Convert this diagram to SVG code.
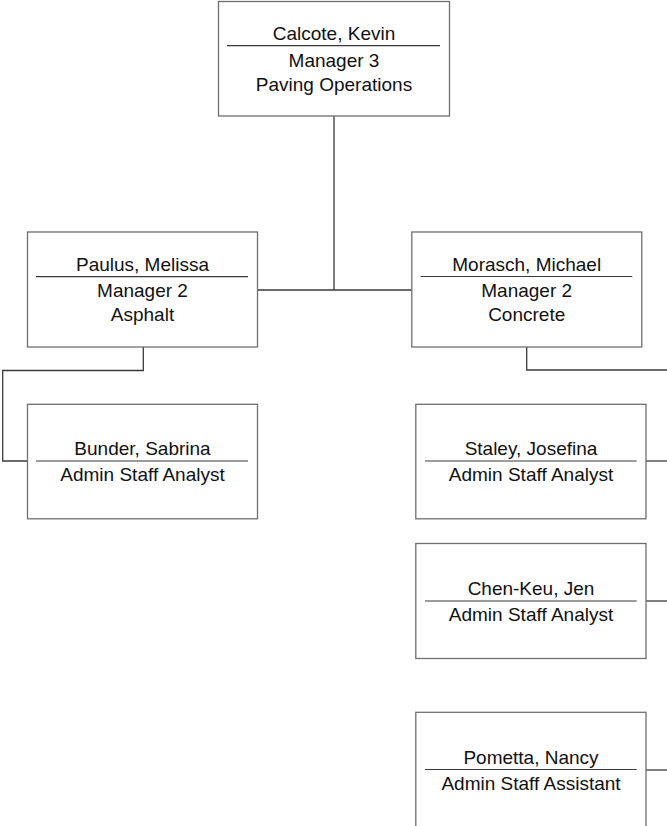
<svg xmlns="http://www.w3.org/2000/svg" width="667" height="826" viewBox="0 0 667 826">
  <style>
    .box { fill: #ffffff; stroke: #6f6f6f; stroke-width: 1.3; }
    .div { stroke: #3a3a3a; stroke-width: 1.2; }
    .conn { fill: none; stroke: #3a3a3a; stroke-width: 1.3; }
    text { font-family: "Liberation Sans", Arial, sans-serif; font-size: 19px; fill: #111; text-anchor: middle; }
  </style>
  <rect width="667" height="826" fill="#ffffff"/>
  <g id="connectors">
    <path class="conn" d="M334,116 V290"/>
    <path class="conn" d="M257.5,290 H412"/>
    <path class="conn" d="M143.3,347 V370.5 H2.7 V461 H27.5"/>
    <path class="conn" d="M526.7,347 V370 H667"/>
    <path class="conn" d="M646,461 H667"/>
    <path class="conn" d="M646,601 H667"/>
    <path class="conn" d="M646,770 H667"/>
  </g>
  <g id="calcote">
    <rect class="box" x="218.5" y="1.5" width="231" height="114.5"/>
    <line class="div" x1="227" y1="45.7" x2="440" y2="45.7"/>
    <text x="334" y="39.5">Calcote, Kevin</text>
    <text x="334" y="66.5">Manager 3</text>
    <text x="334" y="91">Paving Operations</text>
  </g>
  <g id="paulus">
    <rect class="box" x="27.5" y="232" width="230" height="115"/>
    <line class="div" x1="36" y1="276.7" x2="248" y2="276.7"/>
    <text x="142.5" y="270.7">Paulus, Melissa</text>
    <text x="142.5" y="296.7">Manager 2</text>
    <text x="142.5" y="320.7">Asphalt</text>
  </g>
  <g id="morasch">
    <rect class="box" x="411.8" y="232" width="230" height="115"/>
    <line class="div" x1="420.7" y1="276.5" x2="632.3" y2="276.5"/>
    <text x="526.7" y="270.5">Morasch, Michael</text>
    <text x="526.7" y="296.5">Manager 2</text>
    <text x="526.7" y="320.5">Concrete</text>
  </g>
  <g id="bunder">
    <rect class="box" x="27.5" y="404.3" width="230" height="114.5"/>
    <line class="div" x1="36" y1="461" x2="248" y2="461"/>
    <text x="142.5" y="455">Bunder, Sabrina</text>
    <text x="142.5" y="481">Admin Staff Analyst</text>
  </g>
  <g id="staley">
    <rect class="box" x="415.8" y="404.3" width="230.2" height="114.5"/>
    <line class="div" x1="425" y1="461" x2="636.7" y2="461"/>
    <text x="531" y="455">Staley, Josefina</text>
    <text x="531" y="481">Admin Staff Analyst</text>
  </g>
  <g id="chenkeu">
    <rect class="box" x="415.8" y="543.5" width="230.2" height="115"/>
    <line class="div" x1="425" y1="601" x2="636.7" y2="601"/>
    <text x="531" y="595">Chen-Keu, Jen</text>
    <text x="531" y="621">Admin Staff Analyst</text>
  </g>
  <g id="pometta">
    <rect class="box" x="415.8" y="712.3" width="230.2" height="120"/>
    <line class="div" x1="425" y1="769.5" x2="636.7" y2="769.5"/>
    <text x="531" y="763.5">Pometta, Nancy</text>
    <text x="531" y="789.5">Admin Staff Assistant</text>
  </g>
</svg>
